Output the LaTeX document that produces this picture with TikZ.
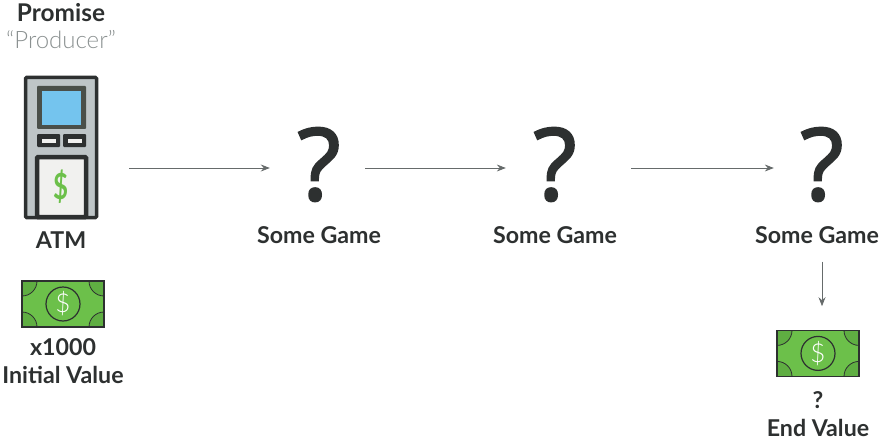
\documentclass[tikz,border=0pt]{standalone}
\usepackage{fontspec}
\setmainfont{Lato}
\newfontfamily\lightfont{Lato Light}
\newfontfamily\markfont[FakeBold=2]{Open Sans}
\usetikzlibrary{positioning, arrows.meta}
\definecolor{ink}{HTML}{2D3030}
\definecolor{pale}{HTML}{8B9191}
\definecolor{wire}{HTML}{666B6B}
\definecolor{cash}{HTML}{6CC04A}
\definecolor{cashdark}{HTML}{5FAE42}
\definecolor{shell}{HTML}{BEC5C7}
\definecolor{frame}{HTML}{4A4F49}
\definecolor{glass}{HTML}{74C4EE}
\definecolor{tray}{HTML}{F1F1EF}
\tikzset{
  bill/.pic={
    \begin{scope}
      \clip (-41,-23) rectangle (41,23);
      \draw[ink, thick, fill=cashdark] (-41,-23) circle (15);
      \draw[ink, thick, fill=cashdark] (41,-23) circle (15);
      \draw[ink, thick, fill=cashdark] (-41,23) circle (15);
      \draw[ink, thick, fill=cashdark] (41,23) circle (15);
    \end{scope}
    \draw[ink, line width=1.4pt] (-41,-23) rectangle (41,23);
    \node[circle, draw=ink, line width=1.2pt, minimum size=34pt, inner sep=0pt,
          text=white, font=\fontsize{26}{26}\lightfont] (dollar) at (0,0) {\$};
  },
}
\begin{document}
\begin{tikzpicture}[
  x=1pt, y=-1pt,
  title/.style={inner sep=0pt, text height=17pt, text depth=5pt, text=ink,
                font=\fontsize{23.2}{23.2}\selectfont\bfseries},
  mark q/.style={inner sep=0pt, text height=72pt, text depth=8pt, minimum width=98pt,
                 text=ink, font=\fontsize{100}{100}\markfont},
  money/.style={rectangle, fill=cash, minimum width=82pt, minimum height=46pt, inner sep=0pt},
  part/.style={rectangle, rounded corners=1pt, inner sep=0pt},
  arr/.style={-{Stealth[length=9pt, width=7pt, inset=3pt]}, wire, line width=0.8pt},
]
\useasboundingbox (0,0) rectangle (880,441);
% Maquina
\node[title, font=\fontsize{24.4}{24.4}\selectfont\bfseries] (promise) at (61,15.5) {Promise};
\node[title, below=5pt of promise, text=pale, font=\fontsize{24}{24}\lightfont] (producer) {“Producer”};
\node[part, draw=ink, line width=3.5pt, fill=shell, minimum width=71pt, minimum height=140pt] (atm) at (61,147.5) {};
\node[part, fill=frame, minimum width=49pt, minimum height=43pt] (screen) at (61.5,107.5) {};
\node[part, fill=glass, minimum width=39pt, minimum height=34pt, rounded corners=0pt] (glass) at (61.5,108) {};
\node[part, fill=ink, minimum width=23pt, minimum height=13pt] (btnleft) at (48.5,140.5) {};
\node[part, fill=ink, minimum width=23pt, minimum height=13pt] (btnright) at (74.5,140.5) {};
\node[part, fill=tray, minimum width=14pt, minimum height=4pt, rounded corners=0pt] (slotleft) at (btnleft) {};
\node[part, fill=tray, minimum width=14pt, minimum height=4pt, rounded corners=0pt] (slotright) at (btnright) {};
\node[part, draw=ink, line width=4.5pt, fill=tray, minimum width=49pt, minimum height=60pt] (tray) at (61.5,187) {};
\node[inner sep=0pt, text=cash, transform shape, xscale=0.72, font=\fontsize{36}{36}\selectfont\bfseries] (sign) at (tray) {\$};
\node[title, below=12pt of atm] (atmname) {ATM};
% Valor inicial
\node[money] (billa) at (63,304) {};
\pic (picka) at (billa) {bill};
\node[title, below=11pt of billa] (amount) {x1000};
\node[title, below=6pt of amount] (initial) {Initial Value};
% Juegos
\node[mark q] (quest) at (319,168) {?};
\node[mark q] (questb) at (555,168) {?};
\node[mark q] (questc) at (822,168) {?};
\node[title, below=18pt of quest] (gamea) {Some Game};
\node[title, below=18pt of questb] (gameb) {Some Game};
\node[title, xshift=-5pt, below=18pt of questc] (gamec) {Some Game};
% Valor final
\node[money, below=122pt of questc.south, xshift=-4pt] (billb) {};
\pic (pickb) at (billb) {bill};
\node[title, below=15pt of billb] (unknown) {?};
\node[title, below=5pt of unknown] (final) {End Value};
% Flechas
\draw[arr, shorten <=31pt] (atm.east |- quest.west) -- (quest.west);
\draw[arr, shorten <=-3pt] (quest.east) -- (questb.west);
\draw[arr, shorten <=27pt, shorten >=-1pt] (questb.east) -- (questc.west);
\draw[arr, shorten <=13pt, shorten >=24pt, xshift=-1pt] (questc |- gamec.south) -- (questc |- billb.north);
\end{tikzpicture}
\end{document}
